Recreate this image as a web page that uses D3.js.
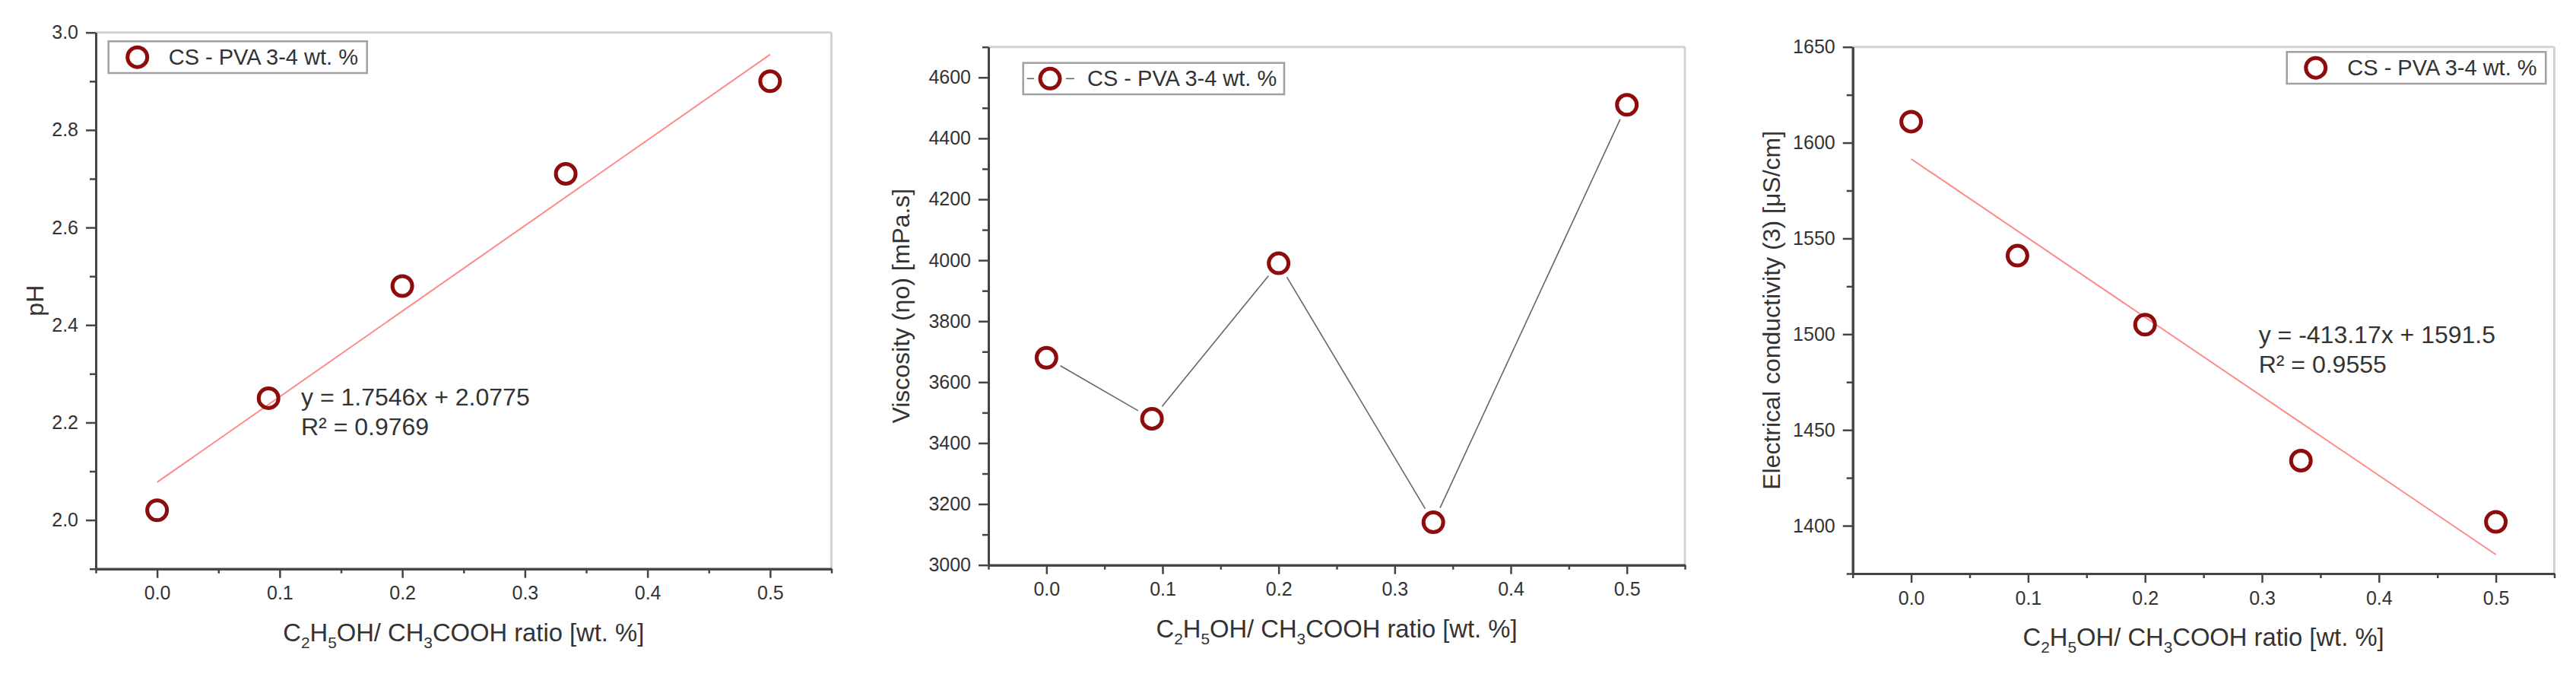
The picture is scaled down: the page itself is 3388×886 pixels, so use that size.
<!DOCTYPE html>
<html><head><meta charset="utf-8">
<script src="https://cdn.jsdelivr.net/npm/d3@7"></script>
<style>
body{margin:0;background:#fff}
svg{display:block}
text{font-family:"Liberation Sans",Arial,Helvetica,sans-serif;fill:#333}
</style>
</head><body>
<svg id="c" width="3388" height="886"></svg>
<script>
// ---------------- data ----------------
const ratios = [0, 0.0909, 0.2, 0.3333, 0.5];
const pHValues = [2.02, 2.25, 2.48, 2.71, 2.90];
const viscosityValues = [3680, 3480, 3990, 3140, 4510];
const conductivityValues = [1611, 1541, 1505, 1434, 1402];

const xTickValues = [0, 0.1, 0.2, 0.3, 0.4, 0.5];
const xTickLabels = ["0.0", "0.1", "0.2", "0.3", "0.4", "0.5"];
const pHTicks = [2.0, 2.2, 2.4, 2.6, 2.8, 3.0];
const pHTickLabels = ["2.0", "2.2", "2.4", "2.6", "2.8", "3.0"];
const viscTicks = [3000, 3200, 3400, 3600, 3800, 4000, 4200, 4400, 4600];
const viscTickLabels = ["3000", "3200", "3400", "3600", "3800", "4000", "4200", "4400", "4600"];
const condTicks = [1400, 1450, 1500, 1550, 1600, 1650];
const condTickLabels = ["1400", "1450", "1500", "1550", "1600", "1650"];

const legendLabel = "CS - PVA 3-4 wt. %";
const pHFit = [1.7546, 2.0775];        // slope, intercept
const condFit = [-413.17, 1591.5];     // slope, intercept
const pHEquation = ["y = 1.7546x + 2.0775", "R\u00B2 = 0.9769"];
const condEquation = ["y = -413.17x + 1591.5", "R\u00B2 = 0.9555"];
const yTitles = ["pH", "Viscosity (\u03B7o) [mPa.s]", "Electrical conductivity (3) [\u03BCS/cm]"];

// ---------------- layout ----------------
const svg = d3.select("#c");
const markerColor = "#8e0c0c";
const axisColor = "#444";
const frameColor = "#d2d2d2";

const charts = [
  {L:126, R:1093.5, T:42.7, B:747.7, yDom:[1.9,3.0], yMinorStep:0.1, values:pHValues,
   ticks:pHTicks, tickLabels:pHTickLabels, title:yTitles[0], titleX:57,
   legend:{x0:142.7, y0:54.3, x1:482.7, y1:96, cx:180.7, tx:221.7, line:false},
   fit:pHFit, eq:pHEquation, eqX:396, eqY:533, connect:false},
  {L:1300, R:2216, T:61.7, B:742.7, yDom:[3000,4700], yMinorStep:100, values:viscosityValues,
   ticks:viscTicks, tickLabels:viscTickLabels, title:yTitles[1], titleX:1196,
   legend:{x0:1345.7, y0:82.7, x1:1689, y1:124, cx:1381, tx:1430, line:true},
   fit:null, connect:true},
  {L:2436.7, R:3359.5, T:61.7, B:754, yDom:[1375,1650], yMinorStep:25, values:conductivityValues,
   ticks:condTicks, tickLabels:condTickLabels, title:yTitles[2], titleX:2341,
   legend:{x0:3007.7, y0:68.3, x1:3348.3, y1:110, cx:3045.7, tx:3087.3, line:false},
   fit:condFit, eq:condEquation, eqX:2970.7, eqY:451, connect:false}
];

charts.forEach(c => {
  const g = svg.append("g");
  const x = d3.scaleLinear().domain([-0.05, 0.55]).range([c.L, c.R]);
  const y = d3.scaleLinear().domain(c.yDom).range([c.B, c.T]);

  // frame (top & right)
  g.append("line").attr("x1", c.L).attr("x2", c.R).attr("y1", c.T).attr("y2", c.T)
    .attr("stroke", frameColor).attr("stroke-width", 3);
  g.append("line").attr("x1", c.R).attr("x2", c.R).attr("y1", c.T).attr("y2", c.B)
    .attr("stroke", frameColor).attr("stroke-width", 3);

  // fit line
  if (c.fit) {
    const [m, b] = c.fit;
    g.append("line")
      .attr("x1", x(0)).attr("y1", y(b))
      .attr("x2", x(0.5)).attr("y2", y(m * 0.5 + b))
      .attr("stroke", "#ff8a8a").attr("stroke-width", 2);
    g.append("text").attr("x", c.eqX).attr("y", c.eqY).attr("font-size", 32).text(c.eq[0]);
    g.append("text").attr("x", c.eqX).attr("y", c.eqY + 39).attr("font-size", 32).text(c.eq[1]);
  }

  // connecting line with gaps near markers
  if (c.connect) {
    const pts = ratios.map((r, i) => [x(r), y(c.values[i])]);
    const gap = 21;
    for (let i = 0; i < pts.length - 1; i++) {
      const [x1, y1] = pts[i], [x2, y2] = pts[i + 1];
      const d = Math.hypot(x2 - x1, y2 - y1);
      const ux = (x2 - x1) / d, uy = (y2 - y1) / d;
      g.append("line")
        .attr("x1", x1 + ux * gap).attr("y1", y1 + uy * gap)
        .attr("x2", x2 - ux * gap).attr("y2", y2 - uy * gap)
        .attr("stroke", "#666").attr("stroke-width", 1.6);
    }
  }

  // markers
  g.selectAll("circle.pt").data(ratios).join("circle")
    .attr("class", "pt")
    .attr("cx", d => x(d))
    .attr("cy", (d, i) => y(c.values[i]))
    .attr("r", 13)
    .attr("fill", "none")
    .attr("stroke", markerColor)
    .attr("stroke-width", 5);

  // axes
  const xMinor = d3.range(-0.05, 0.551, 0.1).map(v => +v.toFixed(3));
  const yMinor = d3.range(c.yDom[0], c.yDom[1] + 1e-9, c.yMinorStep)
    .filter(v => !c.ticks.some(t => Math.abs(t - v) < 1e-6));

  const xAxisG = g.append("g").attr("transform", `translate(0,${c.B})`)
    .call(d3.axisBottom(x).tickValues(xTickValues).tickFormat((d, i) => xTickLabels[i])
      .tickSize(12).tickSizeOuter(0).tickPadding(11));
  const xMinorG = g.append("g").attr("transform", `translate(0,${c.B})`)
    .call(d3.axisBottom(x).tickValues(xMinor).tickFormat("").tickSize(6).tickSizeOuter(0));
  const yAxisG = g.append("g").attr("transform", `translate(${c.L},0)`)
    .call(d3.axisLeft(y).tickValues(c.ticks).tickFormat((d, i) => c.tickLabels[i])
      .tickSize(13).tickSizeOuter(0).tickPadding(10));
  const yMinorG = g.append("g").attr("transform", `translate(${c.L},0)`)
    .call(d3.axisLeft(y).tickValues(yMinor).tickFormat("").tickSize(8).tickSizeOuter(0));

  [xAxisG, xMinorG, yAxisG, yMinorG].forEach(a => {
    a.select(".domain").attr("stroke", axisColor).attr("stroke-width", 3);
    a.selectAll(".tick line").attr("stroke", axisColor).attr("stroke-width", 2.5);
    a.selectAll(".tick text").attr("font-size", 25).attr("fill", "#333")
      .attr("font-family", '"Liberation Sans",Arial,sans-serif');
  });

  // x title with subscripts
  const xt = g.append("text").attr("x", (c.L + c.R) / 2).attr("y", c.B + 95)
    .attr("text-anchor", "middle").attr("font-size", 33)
    .attr("textLength", 475).attr("lengthAdjust", "spacingAndGlyphs");
  const parts = [["C",0],["2",1],["H",0],["5",1],["OH/ CH",0],["3",1],["COOH ratio [wt. %]",0]];
  let shifted = false;
  parts.forEach(([t, sub]) => {
    let dy = 0;
    if (sub && !shifted) { dy = 9; shifted = true; }
    else if (!sub && shifted) { dy = -9; shifted = false; }
    xt.append("tspan").attr("font-size", sub ? 21 : 33).attr("dy", dy).text(t);
  });

  // y title (rotated)
  g.append("text")
    .attr("transform", `translate(${c.titleX},${(c.T + c.B) / 2}) rotate(-90)`)
    .attr("text-anchor", "middle").attr("font-size", 32).text(c.title);

  // legend
  const lg = c.legend;
  const cy = (lg.y0 + lg.y1) / 2;
  g.append("rect").attr("x", lg.x0).attr("y", lg.y0)
    .attr("width", lg.x1 - lg.x0).attr("height", lg.y1 - lg.y0)
    .attr("fill", "#fff").attr("stroke", "#a0a0a0").attr("stroke-width", 2.5);
  if (lg.line) {
    g.append("line").attr("x1", lg.x0 + 5).attr("x2", lg.cx - 21).attr("y1", cy).attr("y2", cy)
      .attr("stroke", "#666").attr("stroke-width", 1.6);
    g.append("line").attr("x1", lg.cx + 21).attr("x2", lg.cx + 32).attr("y1", cy).attr("y2", cy)
      .attr("stroke", "#666").attr("stroke-width", 1.6);
  }
  g.append("circle").attr("cx", lg.cx).attr("cy", cy).attr("r", 13)
    .attr("fill", "none").attr("stroke", markerColor).attr("stroke-width", 5);
  g.append("text").attr("x", lg.tx).attr("y", cy + 10).attr("font-size", 29).text(legendLabel);
});
</script>
</body></html>
